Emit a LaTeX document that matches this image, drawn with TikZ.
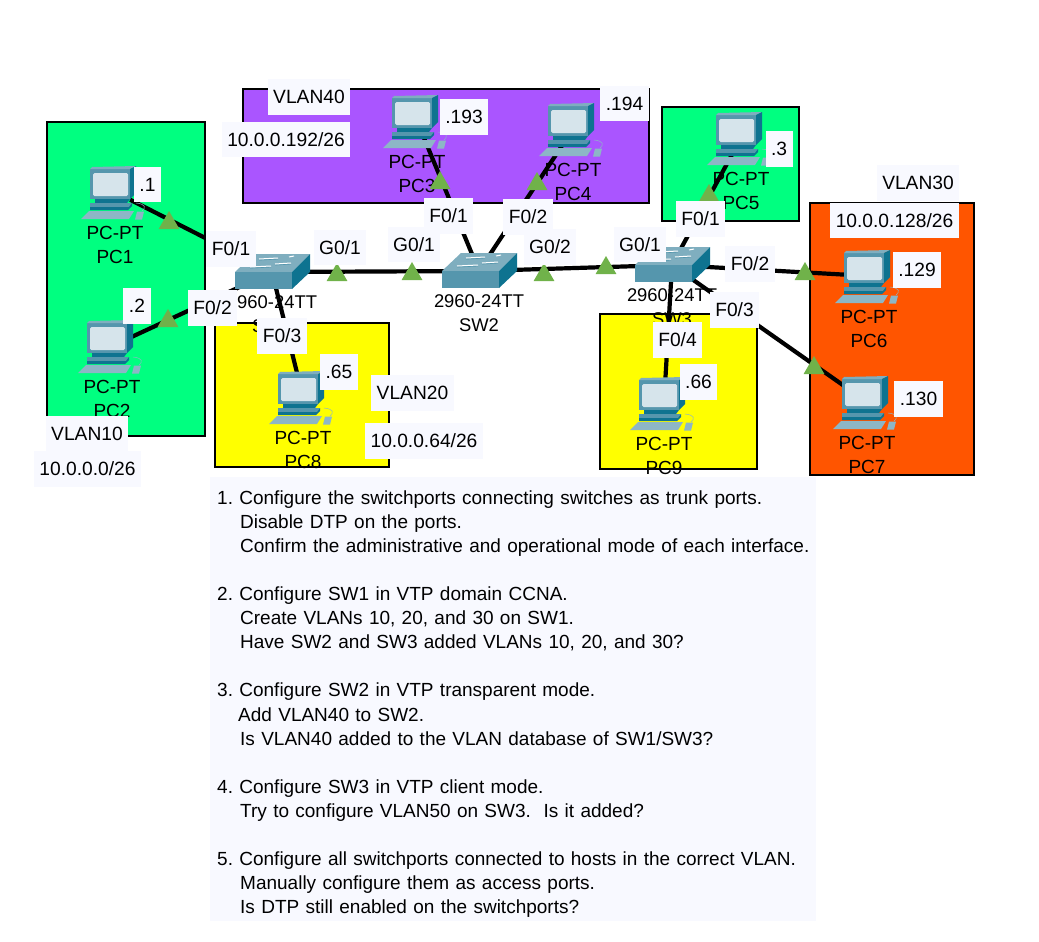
\documentclass[tikz,border=0pt]{standalone}
\usepackage{fontspec}
\setmainfont{Liberation Sans}
\usepackage{tikz}
\usetikzlibrary{arrows,shapes.geometric}

\definecolor{vlanA}{HTML}{00FF80}
\definecolor{vlanB}{HTML}{FFFF00}
\definecolor{vlanC}{HTML}{FF5500}
\definecolor{vlanD}{HTML}{AA55FF}
\definecolor{boxbg}{HTML}{F8F9FF}
\definecolor{marker}{HTML}{70B24A}
\definecolor{iconA}{HTML}{5596AD}
\definecolor{iconB}{HTML}{7FAEBF}
\definecolor{iconC}{HTML}{0E7390}
\definecolor{iconD}{HTML}{8DB6C6}
\definecolor{iconE}{HTML}{D6E4EB}

\tikzset{
  pcicon/.pic={
    \draw[iconD,line width=.5pt] (21,11) .. controls (31,12) and (31,16) .. (27,19);
    \fill[iconA] (-25,-23) rectangle (15,7);
    \fill[iconB] (-25,-23) -- (-23,-25) -- (21,-26) -- (15,-23) -- cycle;
    \fill[iconC] (15,-23) -- (21,-26) -- (21,1) -- (15,7) -- cycle;
    \fill[iconE, rounded corners=1.5] (-22,-19) rectangle (13,4);
    \fill[iconC] (-20,7) -- (15,7) -- (12,11) -- (-20,11) -- cycle;
    \fill[iconA] (-25,11) -- (17,11) -- (14,15) -- (-25,15) -- cycle;
    \fill[iconC] (-25,15) -- (14,15) -- (17,11) -- (17,14) -- (13,18) -- (-25,18) -- cycle;
    \fill[iconD] (-26,19) -- (19,19) -- (14,27) -- (-34,27) -- cycle;
    \fill[iconD] (22,19.5) -- (29,19.5) -- (27,27.5) -- (20,27.5) -- cycle;
  },
  swicon/.pic={
    \fill[iconB] (-37,0) -- (-18,-18) -- (38,-18) -- (20,0) -- cycle;
    \fill[iconA] (-37,0) rectangle (20,17);
    \fill[iconC] (20,0) -- (38,-18) -- (38,0) -- (20,17) -- cycle;
    \draw[iconA, line width=.8pt] (-13,-12) -- (6,-13) (-22,-4) -- (-1,-5) (3,-7) -- (19,-8);
    \draw[white, line width=1pt] (-13,-13) -- (6,-14) (17,-15) -- (22,-16)
      (-22,-5) -- (-1,-6) (3,-8) -- (19,-9);
  }
}

\begin{document}
\begin{tikzpicture}[x=1pt,y=-1pt,node distance=53pt,font=\fontsize{19}{24}\selectfont]
  \tikzstyle{zone}=[draw=black,line width=1.2pt]
  \tikzstyle{host}=[minimum width=30pt,minimum height=30pt,inner sep=0pt]
  \tikzstyle{switch}=[minimum width=50pt,minimum height=20pt,inner sep=0pt]
  \tikzstyle{capt}=[align=center,inner sep=0pt]
  \tikzstyle{lbl}=[fill=boxbg,font=\fontsize{19.2}{24}\selectfont,inner xsep=5.5pt,inner ysep=0pt,minimum height=35.5pt,text height=13.7pt,text depth=0pt]
  \tikzstyle{tri}=[regular polygon,regular polygon sides=3,fill=marker,minimum size=24pt,inner sep=0pt]
  \tikzstyle{every edge}=[draw,line width=4.2pt]

  \useasboundingbox (0,0) rectangle (1039,942);

  \draw[zone,fill=vlanA] (47,122) rectangle (205,436);
  \draw[zone,fill=vlanD] (243,89) rectangle (649,203);
  \draw[zone,fill=vlanB] (215,323) rectangle (389,467);
  \draw[zone,fill=vlanA] (662,107) rectangle (799,221);
  \draw[zone,fill=vlanC] (810,203) rectangle (974,475);
  \draw[zone,fill=vlanB] (600,314) rectangle (757,469);

  \node[host]   (PC1) at (115,192) {};
  \node[host]   (PC2) at (112,346) {};
  \node[host]   (PC3) at (417,121) {};
  \node[host]   (PC4) at (573,129) {};
  \node[host]   (PC5) at (741,138) {};
  \node[host]   (PC6) at (869,276) {};
  \node[host]   (PC7) at (867,402) {};
  \node[host]   (PC8) at (303,397) {};
  \node[host]   (PC9) at (664,403) {};
  \node[switch] (SW1) at (272,272) {};
  \node[switch] (SW2) at (479,271) {};
  \node[switch] (SW3) at (672,265) {};

  \node[capt] (capPC1) [below of=PC1] {PC-PT\\PC1};
  \node[capt] (capPC2) [below of=PC2] {PC-PT\\PC2};
  \node[capt] (capPC3) [below of=PC3] {PC-PT\\PC3};
  \node[capt] (capPC4) [below of=PC4] {PC-PT\\PC4};
  \node[capt] (capPC5) [below of=PC5] {PC-PT\\PC5};
  \node[capt] (capPC6) [below of=PC6] {PC-PT\\PC6};
  \node[capt] (capPC7) [below of=PC7] {PC-PT\\PC7};
  \node[capt] (capPC8) [below of=PC8] {PC-PT\\PC8};
  \node[capt] (capPC9) [below of=PC9] {PC-PT\\PC9};
  \node[capt,node distance=42pt,font=\fontsize{18.4}{24}\selectfont] (capSW1) [below of=SW1] {2960-24TT\\SW1};
  \node[capt,node distance=42pt,font=\fontsize{18.4}{24}\selectfont] (capSW2) [below of=SW2] {2960-24TT\\SW2};
  \node[capt,node distance=42pt,font=\fontsize{18.4}{24}\selectfont] (capSW3) [below of=SW3] {2960-24TT\\SW3};

  \path (SW1) edge (PC1)
              edge (PC2)
              edge (PC8)
              edge (SW2)
        (SW2) edge (PC3)
              edge (PC4)
              edge (SW3)
        (SW3) edge (PC5)
              edge (PC6)
              edge (PC7)
              edge (PC9);

  \foreach \n in {1,...,9}
    \pic at (PC\n) {pcicon};
  \foreach \n in {1,2,3}
    \pic at (SW\n) {swicon};

  \node[tri] (mkPC1) at (169,223) {};
  \node[tri] (mkPC2) at (168,321) {};
  \node[tri] (mkPC3) at (440,183) {};
  \node[tri] (mkPC4) at (537,184) {};
  \node[tri] (mkPC5) at (709,196) {};
  \node[tri] (mkPC6) at (805,274) {};
  \node[tri] (mkPC7) at (814,368) {};
  \node[tri] (mkSWa) at (337,275) {};
  \node[tri] (mkSWb) at (412,274) {};
  \node[tri] (mkSWc) at (544,275) {};
  \node[tri] (mkSWd) at (606,268) {};

  \node[lbl] (ipPC1) at (147.5,184.5) {.1};
  \node[lbl] (ipPC2) at (137,306)     {.2};
  \node[lbl] (ipPC3) at (464,117)     {.193};
  \node[lbl] (ipPC4) at (624.5,103.5) {.194};
  \node[lbl] (ipPC5) at (779,149)     {.3};
  \node[lbl] (ipPC6) at (917,270)     {.129};
  \node[lbl] (ipPC7) at (918.5,399)   {.130};
  \node[lbl] (ipPC8) at (339,372)     {.65};
  \node[lbl] (ipPC9) at (698.5,382)   {.66};

  \node[lbl] (swAa) at (231,249)   {F0/1};
  \node[lbl] (swAb) at (212.5,308) {F0/2};
  \node[lbl] (swAc) at (282,336)   {F0/3};
  \node[lbl] (swAd) at (340,247.5) {G0/1};
  \node[lbl] (swBa) at (414,244.5) {G0/1};
  \node[lbl] (swBb) at (448.5,216) {F0/1};
  \node[lbl] (swBc) at (528,217)   {F0/2};
  \node[lbl] (swBd) at (550,247)   {G0/2};
  \node[lbl] (swCa) at (640,244.5) {G0/1};
  \node[lbl] (swCb) at (700.5,219) {F0/1};
  \node[lbl] (swCc) at (750,264)   {F0/2};
  \node[lbl] (swCd) at (734.5,310) {F0/3};
  \node[lbl] (swCe) at (677.5,340) {F0/4};

  \node[lbl] (vlanX) at (87,433.5)   {VLAN10};
  \node[lbl] (netX)  at (87.5,469)   {10.0.0.0/26};
  \node[lbl] (vlanY) at (412.5,393)  {VLAN20};
  \node[lbl] (netY)  at (424,441)    {10.0.0.64/26};
  \node[lbl] (vlanZ) at (918,183)    {VLAN30};
  \node[lbl] (netZ)  at (894.5,220.5) {10.0.0.128/26};
  \node[lbl] (vlanW) at (309,97)     {VLAN40};
  \node[lbl] (netW)  at (286,139.5)  {10.0.0.192/26};

  % task list
  \node[fill=boxbg,anchor=north west,minimum width=606pt,minimum height=444pt,
        inner xsep=7pt,inner ysep=0pt,text width=592pt,align=left,
        font=\fontsize{19}{24.1}\selectfont\frenchspacing] (tasks) at (210,477)
    {\rule{0pt}{23.5pt}1. Configure the switchports connecting switches as trunk ports.\\
     \hspace*{23pt}Disable DTP on the ports.\\
     \mbox{\hspace*{23pt}Confirm the administrative and operational mode of each interface.}\\[24.1pt]
     2. Configure SW1 in VTP domain CCNA.\\
     \hspace*{23pt}Create VLANs 10, 20, and 30 on SW1.\\
     \hspace*{23pt}Have SW2 and SW3 added VLANs 10, 20, and 30?\\[24.1pt]
     3. Configure SW2 in VTP transparent mode.\\
     \hspace*{21pt}Add VLAN40 to SW2.\\
     \hspace*{23pt}Is VLAN40 added to the VLAN database of SW1/SW3?\\[24.1pt]
     4. Configure SW3 in VTP client mode.\\
     \hspace*{23pt}Try to configure VLAN50 on SW3.\ \ Is it added?\\[24.1pt]
     5. Configure all switchports connected to hosts in the correct VLAN.\\
     \hspace*{23pt}Manually configure them as access ports.\\
     \hspace*{23pt}Is DTP still enabled on the switchports?};
\end{tikzpicture}
\end{document}
